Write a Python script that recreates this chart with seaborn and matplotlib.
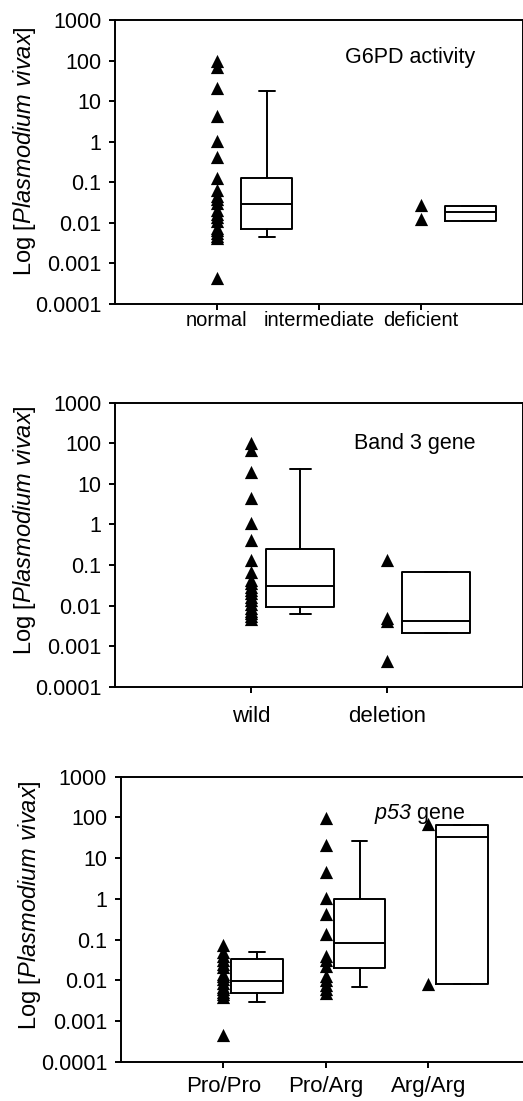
import matplotlib
matplotlib.use("Agg")
import pandas as pd
import seaborn as sns
import matplotlib.pyplot as plt
from matplotlib.ticker import NullLocator

# ---------- dados ---------- #
g6pd_groups = ["normal", "intermediate", "deficient"]
g6pd_normal = [95, 70, 21, 4.4, 1.05, 0.41, 0.13, 0.065, 0.045, 0.039, 0.03,
               0.021, 0.017, 0.014, 0.011, 0.0075, 0.0066, 0.0055, 0.0048,
               0.0042, 0.00043]
g6pd_deficient = [0.028, 0.0123]

band3_groups = ["wild", "deletion"]
band3_wild = [100, 68, 20, 4.4, 1.06, 0.41, 0.133, 0.068, 0.043, 0.035, 0.029,
              0.024, 0.020, 0.016, 0.0137, 0.011, 0.0085, 0.0072, 0.0064,
              0.0055, 0.0046]
band3_deletion = [0.133, 0.0049, 0.0041, 0.00042]

p53_groups = ["Pro/Pro", "Pro/Arg", "Arg/Arg"]
p53_propro = [0.073, 0.05, 0.04, 0.032, 0.025, 0.021, 0.0145, 0.0125, 0.0109,
              0.0085, 0.0069, 0.006, 0.0052, 0.0045, 0.0039, 0.00045]
p53_proarg = [95, 21, 4.6, 1.07, 0.42, 0.134, 0.039, 0.031, 0.023, 0.0126,
              0.01, 0.0076, 0.006, 0.0048]
p53_argarg = [68, 0.0081]

# caixas: (grupo, q1, mediana, q3, bigode inf, bigode sup)
g6pd_boxes = [(0, 0.0069, 0.029, 0.125, 0.0046, 18.0),
              (2, 0.0114, 0.0186, 0.026, 0.0114, 0.026)]
band3_boxes = [(0, 0.0094, 0.030, 0.25, 0.0062, 23.6),
               (1, 0.0021, 0.0042, 0.066, 0.0021, 0.066)]
p53_boxes = [(0, 0.005, 0.0098, 0.033, 0.00285, 0.05),
             (1, 0.020, 0.083, 0.99, 0.0069, 26.0),
             (2, 0.0081, 33.0, 65.0, 0.0081, 65.0)]

ytick_vals = [1e-4, 1e-3, 1e-2, 1e-1, 1, 10, 100, 1000]
ytick_labels = ["0.0001", "0.001", "0.01", "0.1", "1", "10", "100", "1000"]
# ---------------------------- #

sns.set_style("ticks")
plt.rcParams["font.family"] = ["Liberation Sans", "DejaVu Sans"]
plt.rcParams["text.color"] = "black"
plt.rcParams["axes.labelcolor"] = "black"
plt.rcParams["mathtext.fontset"] = "custom"
plt.rcParams["mathtext.rm"] = "Liberation Sans"
plt.rcParams["mathtext.it"] = "Liberation Sans:italic"
plt.rcParams["mathtext.sf"] = "Liberation Sans:italic"

LW = 1.4


def painel(ax, groups, series, boxes, offset, capw, title, title_xy,
           xfs, xpad, ylab_y):
    df = pd.DataFrame([(g, v) for g, vals in zip(groups, series) for v in vals],
                      columns=["grupo", "valor"])
    sns.stripplot(data=df, x="grupo", y="valor", order=groups, jitter=False,
                  marker="^", color="black", size=9.5, linewidth=0, ax=ax)
    ax.set_yscale("log")

    stats = [dict(q1=q1, med=med, q3=q3, whislo=lo, whishi=hi, fliers=[])
             for _, q1, med, q3, lo, hi in boxes]
    pos = [b[0] + offset for b in boxes]
    kw = dict(color="black", linewidth=LW)
    ax.bxp(stats, positions=pos, widths=0.5, capwidths=capw, showfliers=False,
           boxprops=kw, whiskerprops=kw, capprops=kw, medianprops=kw,
           manage_ticks=False)

    ax.set_xlim(-1, len(groups))
    ax.set_ylim(1e-4, 1e3)
    ax.set_yticks(ytick_vals)
    ax.set_yticklabels(ytick_labels)
    ax.yaxis.set_minor_locator(NullLocator())
    ax.set_xticks(range(len(groups)))
    ax.set_xticklabels(groups)
    ax.set_xlabel("")
    ax.set_ylabel(r"Log [$\mathit{Plasmodium\ vivax}$]", fontsize=17)
    ax.yaxis.label.set_verticalalignment("center")
    ax.yaxis.set_label_coords(-0.223, ylab_y)

    ax.tick_params(axis="y", labelsize=15.5, length=4.3, width=LW, pad=5.5,
                   color="black", labelcolor="black")
    ax.tick_params(axis="x", labelsize=xfs, length=4.3, width=LW, pad=xpad,
                   color="black", labelcolor="black")
    for sp in ax.spines.values():
        sp.set_visible(True)
        sp.set_linewidth(LW)
        sp.set_color("black")

    ax.text(title_xy[0], title_xy[1], title, transform=ax.transAxes,
            ha="center", va="baseline", fontsize=15.5, color="black")


fig = plt.figure(figsize=(5.23, 11.01), dpi=100)
W, H = 523, 1101

ax1 = fig.add_axes([115 / W, (H - 304) / H, 407.5 / W, 284 / H])
painel(ax1, g6pd_groups, [g6pd_normal, [], g6pd_deficient], g6pd_boxes,
       0.49, 0.16, "G6PD activity", (0.725, 0.85), 14.5, 0.8, 0.54)

ax2 = fig.add_axes([115 / W, (H - 686.7) / H, 407.5 / W, 284 / H])
painel(ax2, band3_groups, [band3_wild, band3_deletion], band3_boxes,
       0.365, 0.16, "Band 3 gene", (0.736, 0.836), 16, 9.4, 0.55)

ax3 = fig.add_axes([120.7 / W, (H - 1061.7) / H, 410 / W, 285 / H])
painel(ax3, p53_groups, [p53_propro, p53_proarg, p53_argarg], p53_boxes,
       0.33, 0.15, r"$\mathsf{p53}$ gene", (0.728, 0.85), 16, 5.8, 0.55)

fig.savefig("out.png", dpi=100)
